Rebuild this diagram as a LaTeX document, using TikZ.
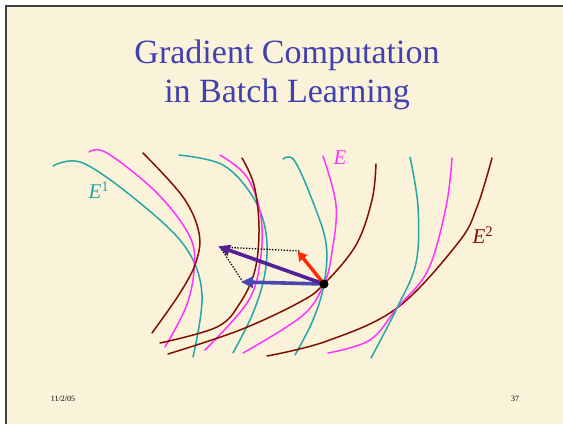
\documentclass[tikz,border=0pt]{standalone}
\usepackage{fontspec}
\setmainfont{Liberation Serif}
\usetikzlibrary{arrows.meta}
\definecolor{bg}{RGB}{251,242,218}
\definecolor{titleblue}{RGB}{64,64,176}
\definecolor{teal1}{RGB}{38,166,166}
\definecolor{mag1}{RGB}{255,51,255}
\definecolor{dred}{RGB}{128,16,0}
\definecolor{purp}{RGB}{84,32,150}
\definecolor{blu}{RGB}{72,72,176}
\definecolor{redarr}{RGB}{255,40,0}
\tikzset{
  tcurve/.style={teal1, line width=1.5pt, line cap=round},
  mcurve/.style={mag1, line width=1.5pt, line cap=round},
  rcurve/.style={dred, line width=1.5pt, line cap=round},
  vec/.style={line width=3.6pt, -{Triangle[length=12pt,width=11pt]}, shorten >=-2pt},
  dots/.style={black, line width=1.3pt, dash pattern=on 1.3pt off 1.6pt},
  lbl/.style={font=\fontsize{21}{22}\selectfont, inner sep=0pt}
}
\begin{document}
\begin{tikzpicture}[x=1pt,y=-1pt]
\useasboundingbox (0,0) rectangle (563,424);
\fill[white] (0,0) rectangle (563,424);
\fill[bg] (5,5) rectangle (563,424);
\draw[black!75, line width=1.6pt] (5.8,424) -- (5.8,5.8) -- (563,5.8);
% title
\node[titleblue, font=\fontsize{34}{39}\selectfont, inner sep=0pt, anchor=base] (t1) at (287,63) {Gradient Computation};
\node[titleblue, font=\fontsize{34}{39}\selectfont, inner sep=0pt, anchor=base] (t2) at (287,102) {in Batch Learning};
% footer
\node[font=\fontsize{8}{9}\selectfont, inner sep=0pt] (date) at (63,399) {11/2/05};
\node[font=\fontsize{8}{9}\selectfont, inner sep=0pt] (num) at (515,399) {37};
% curves left group
\draw[tcurve] plot[smooth, tension=0.6] coordinates {(53,166) (83,163) (140,203) (186,248) (202,295) (193,357)};
\draw[mcurve] plot[smooth, tension=0.6] coordinates {(89,152) (107,153) (157,193) (190,237) (194,270) (186,307) (165,347)};
\draw[rcurve] plot[smooth, tension=0.6] coordinates {(143,153) (183,197) (199,233) (196,262) (180,293) (152,333)};
\draw[tcurve] plot[smooth, tension=0.6] coordinates {(179,155) (223,165) (253,197) (266,233) (265,273) (253,313) (233,353)};
\draw[mcurve] plot[smooth, tension=0.6] coordinates {(220,155) (247,177) (261,217) (260,263) (247,303) (205,350)};
\draw[rcurve] plot[smooth, tension=0.6] coordinates {(242,158) (254,185) (259,227) (255,270) (240,303) (217,327) (160,343)};
% curves through the point
\coordinate (p0) at (324,284);
\draw[rcurve] plot[smooth, tension=0.6] coordinates {(168,354) (240,330) (300,302) (324,284) (356,245) (372,200) (376,164)};
\draw[mcurve] plot[smooth, tension=0.6] coordinates {(323,156) (336,205) (332,252) (324,284) (302,316) (243,353)};
\draw[tcurve] plot[smooth, tension=0.6] coordinates {(283,159) (294,160) (311,197) (326,243) (324,284) (313,320) (295,355)};
% right group
\draw[rcurve] plot[smooth, tension=0.6] coordinates {(267,356) (327,341) (397,308) (458,243) (477,207) (492,158)};
\draw[mcurve] plot[smooth, tension=0.6] coordinates {(328,353) (370,340) (397,308) (428,270) (446,207) (452,158)};
\draw[tcurve] plot[smooth, tension=0.6] coordinates {(371,358) (397,308) (416,263) (418,207) (410,157)};
% labels
\node[lbl, teal1] (e1) at (99,190) {\textit{E}\textsuperscript{1}};
\node[lbl, mag1] (e) at (340,158) {\textit{E}};
\node[lbl, dred] (e2) at (483,235) {\textit{E}\textsuperscript{2}};
% vectors
\coordinate (tp) at (220,247);
\coordinate (tb) at (243,282);
\coordinate (tr) at (299,253);
\draw[dots] (tp) -- (300,251);
\draw[dots] (tp) -- (tb);
\draw[vec, blu] (p0) -- (tb);
\draw[vec, purp] (p0) -- (tp);
\draw[vec, redarr, line width=3.4pt, -{Triangle[length=9pt,width=10pt]}] (p0) -- (tr);
\node[circle, fill=black, minimum size=9pt, inner sep=0pt] (p) at (p0) {};
\end{tikzpicture}
\end{document}
